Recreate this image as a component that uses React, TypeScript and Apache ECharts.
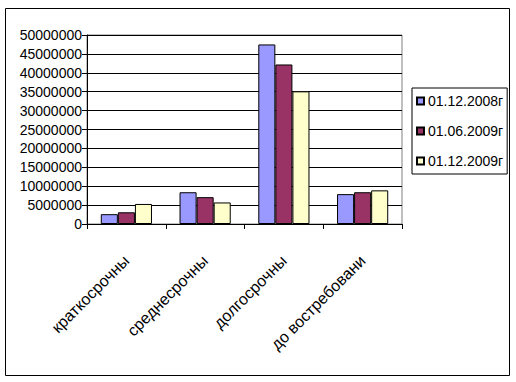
import React, { useEffect, useRef } from "react";
import * as echarts from "echarts";

const categories = ["краткосрочны", "среднесрочны", "долгосрочны", "до востребовани"];
const seriesNames = ["01.12.2008г", "01.06.2009г", "01.12.2009г"];
const values2008Dec = [2600000, 8400000, 47500000, 7900000];
const values2009Jun = [3100000, 7100000, 42200000, 8400000];
const values2009Dec = [5300000, 5700000, 35100000, 8900000];
const colors = ["#9999FF", "#993366", "#FFFFCC"];
const yTicks = { min: 0, max: 50000000, interval: 5000000 };

const FONT = "'Liberation Sans', Arial, sans-serif";

export default function App() {
  const ref = useRef<HTMLDivElement>(null);
  useEffect(() => {
    if (!ref.current) return;
    const chart = echarts.init(ref.current, null, { renderer: "svg" });
    const data = [values2008Dec, values2009Jun, values2009Dec];
    chart.setOption({
      animation: false,
      backgroundColor: "#ffffff",
      textStyle: { fontFamily: FONT },
      grid: {
        left: 87,
        top: 35,
        right: 114,
        bottom: 158,
        show: true,
        borderColor: "#808080",
        borderWidth: 1,
        backgroundColor: "transparent",
      },
      legend: {
        orient: "vertical",
        left: 412,
        top: 88,
        padding: [6, 4, 6, 4],
        borderColor: "#000",
        borderWidth: 1,
        itemWidth: 7,
        itemHeight: 7,
        itemGap: 16,
        icon: "rect",
        textStyle: { fontSize: 14, color: "#000", fontFamily: FONT, padding: [0, 0, 0, -1] },
        data: seriesNames,
      },
      xAxis: {
        type: "category",
        data: categories,
        axisLine: { lineStyle: { color: "#000", width: 1 } },
        axisTick: { show: true, length: 5, lineStyle: { color: "#000" } },
        axisLabel: {
          interval: 0,
          rotate: 45,
          margin: 34,
          fontSize: 16,
          color: "#000",
          fontFamily: FONT,
        },
      },
      yAxis: {
        type: "value",
        min: yTicks.min,
        max: yTicks.max,
        interval: yTicks.interval,
        axisLine: { show: true, lineStyle: { color: "#000", width: 1 } },
        axisTick: { show: true, length: 5, lineStyle: { color: "#000" } },
        axisLabel: {
          fontSize: 14,
          color: "#000",
          margin: 5,
          fontFamily: FONT,
          formatter: (v: number) => String(v),
        },
        splitLine: { show: true, lineStyle: { color: "#000", width: 1 } },
      },
      series: seriesNames.map((name, i) => ({
        name,
        type: "bar",
        data: data[i],
        barGap: "0%",
        barCategoryGap: "35%",
        itemStyle: { color: colors[i], borderColor: "#000", borderWidth: 1 },
      })),
      graphic: [
        {
          type: "rect",
          shape: { x: 5.5, y: 8.5, width: 504, height: 367 },
          style: { fill: "none", stroke: "#000", lineWidth: 1 },
          silent: true,
        },
      ],
    });
    return () => chart.dispose();
  }, []);
  return (
    <div
      ref={ref}
      style={{ position: "fixed", left: 0, top: 0, width: 516, height: 382 }}
    />
  );
}
